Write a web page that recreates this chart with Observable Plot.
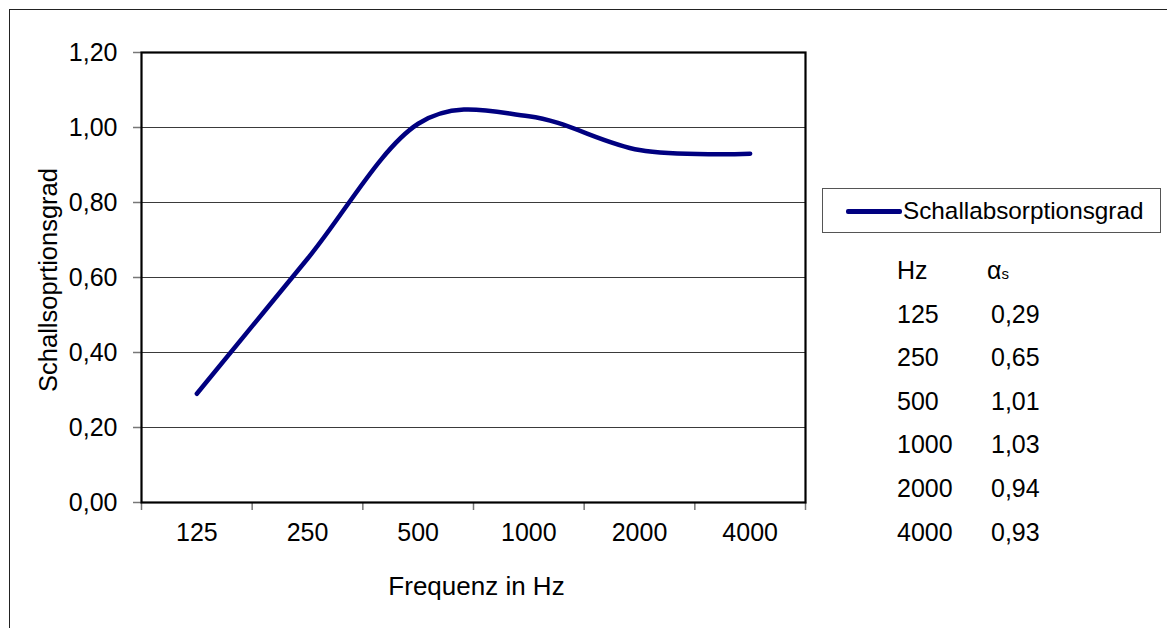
<!DOCTYPE html>
<html>
<head>
<meta charset="utf-8">
<script src="https://cdn.jsdelivr.net/npm/d3@7"></script>
<script src="https://cdn.jsdelivr.net/npm/@observablehq/plot@0.6"></script>
<style>
  html, body { margin: 0; padding: 0; background: #fff; }
  body { width: 1167px; height: 628px; overflow: hidden; position: relative; font-family: "Liberation Sans", Arial, sans-serif; color: #000; }
  #wrap { position: absolute; left: 0; top: 0; width: 1167px; height: 628px; }
  #outer { position: absolute; left: 9px; top: 9px; width: 1300px; height: 800px; border: 1.5px solid #222; box-sizing: border-box; }
  #chart { position: absolute; left: 0; top: 0; }
  .t { position: absolute; white-space: nowrap; font-size: 25px; line-height: 1; }
  #ytitle { left: 49px; top: 280px; font-size: 25.5px; transform: translate(-50%, -50%) rotate(-90deg); }
  #xtitle { left: 476.5px; top: 573px; font-size: 26px; transform: translateX(-50%); }
  #legend { position: absolute; left: 822px; top: 188px; width: 339px; height: 45px; border: 1px solid #555; box-sizing: border-box; }
  #legend .sw { position: absolute; left: 23px; top: 20px; width: 56px; height: 4.5px; background: #000080; border-radius: 2px; }
  #legend .lt { position: absolute; left: 80px; top: 10px; font-size: 24.3px; line-height: 1; }
</style>
</head>
<body>
<div id="wrap">
  <div id="outer"></div>
  <div id="chart"></div>
  <div id="ytitle" class="t">Schallsoprtionsgrad</div>
  <div id="xtitle" class="t">Frequenz in Hz</div>
  <div id="legend"><div class="sw"></div><div class="lt">Schallabsorptionsgrad</div></div>
  <div id="table"></div>
</div>
<script>
// Data
const freqs = ["125", "250", "500", "1000", "2000", "4000"];
const alpha = [0.29, 0.65, 1.01, 1.03, 0.94, 0.93];
const yTicks = [0, 0.2, 0.4, 0.6, 0.8, 1.0, 1.2];
const seriesName = "Schallabsorptionsgrad";

const fmt = v => d3.format(".2f")(v).replace(".", ",");
const data = freqs.map((f, i) => ({i, f, v: alpha[i]}));
const idx = freqs.map((_, i) => i);
const bounds = [...idx.map(i => i - 0.5), freqs.length - 0.5];

const W = 1167, H = 628;
const plot = Plot.plot({
  width: W,
  height: H,
  marginLeft: 141,
  marginRight: W - 805,
  marginTop: 52,
  marginBottom: H - 502,
  style: {fontFamily: "'Liberation Sans', Arial, sans-serif", fontSize: "25px", color: "#000", background: "transparent", overflow: "visible"},
  x: {type: "linear", domain: [-0.5, freqs.length - 0.5], nice: false},
  y: {domain: [0, 1.2], nice: false},
  marks: [
    Plot.gridY(yTicks.slice(1, -1), {stroke: "#3a3a3a", strokeOpacity: 1, strokeWidth: 1.1}),
    Plot.axisY(yTicks, {tickSize: 8, tickFormat: () => "", stroke: "#777", strokeWidth: 1.5, label: null}),
    Plot.axisY(yTicks, {tickSize: 0, tickPadding: 24, tickFormat: fmt, fill: "#000", label: null}),
    Plot.axisX(bounds, {tickSize: 8, tickFormat: () => "", stroke: "#777", strokeWidth: 1.5, label: null}),
    Plot.axisX(idx, {tickSize: 0, tickPadding: 21, tickFormat: i => freqs[i], fill: "#000", label: null}),
    Plot.frame({stroke: "#000", strokeWidth: 2.2}),
    Plot.line(data, {x: "i", y: "v", curve: "cardinal", stroke: "#000080", strokeWidth: 4.5, strokeLinecap: "round"})
  ]
});
document.getElementById("chart").appendChild(plot);

// Value table on the right
const table = document.getElementById("table");
const rowTop = 258, rowStep = 43.6;
function addText(html, left, top) {
  const d = document.createElement("div");
  d.className = "t";
  d.style.left = left + "px";
  d.style.top = top + "px";
  d.innerHTML = html;
  table.appendChild(d);
}
addText("Hz", 897, rowTop);
addText("α<span style='font-size:15px'>s</span>", 987, rowTop);
freqs.forEach((f, i) => {
  addText(f, 897, rowTop + (i + 1) * rowStep);
  addText(fmt(alpha[i]), 991, rowTop + (i + 1) * rowStep);
});
</script>
</body>
</html>
